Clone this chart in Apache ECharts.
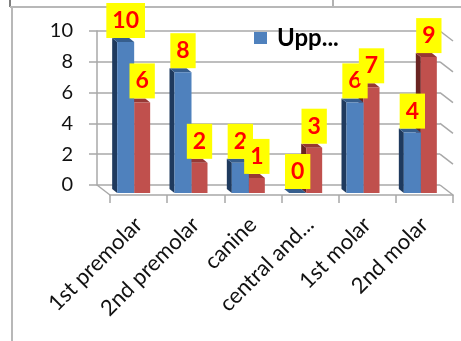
<!DOCTYPE html>
<html>
<head>
<meta charset="utf-8">
<script src="https://cdn.jsdelivr.net/npm/echarts@6/dist/echarts.min.js"></script>
<style>
  html, body { margin: 0; padding: 0; background: #fff; }
  #chart { width: 461px; height: 341px; }
</style>
</head>
<body>
<div id="chart"></div>
<script>
// Tooth types and counts per jaw
const categories = ['1st premolar', '2nd premolar', 'canine', 'central and...', '1st molar', '2nd molar'];
const upperValues = [10, 8, 2, 0, 6, 4];
const lowerValues = [6, 2, 1, 3, 7, 9];
const yMin = 0;
const yMax = 10;
const yStep = 2;

const FONT = 'Lato, "Liberation Sans", Arial, sans-serif';
const GRID_LINE = '#a8a8a8';

// Offsets of the bar depth (side and top faces)
const DEPTH_X = -5;
const DEPTH_Y = -4;

function barRenderer(startOffset, width, colors, labelZ) {
  return function (params, api) {
    const idx = api.value(0);
    const val = api.value(1);
    const top = api.coord([idx, val]);
    const base = api.coord([idx, 0]);
    const x0 = top[0] + startOffset;
    const x1 = x0 + width;
    const yT = top[1];
    const yB = base[1];
    return {
      type: 'group',
      children: [
        {
          type: 'polygon',
          shape: { points: [[x0, yB], [x0, yT], [x0 + DEPTH_X, yT + DEPTH_Y], [x0 + DEPTH_X, yB + DEPTH_Y]] },
          style: { fill: colors.side }
        },
        {
          type: 'polygon',
          shape: { points: [[x0, yT], [x1, yT], [x1 + DEPTH_X, yT + DEPTH_Y], [x0 + DEPTH_X, yT + DEPTH_Y]] },
          style: { fill: colors.top }
        },
        {
          type: 'rect',
          shape: { x: x0, y: yT, width: width, height: yB - yT },
          style: { fill: colors.front }
        },
        {
          type: 'text',
          z2: labelZ,
          style: {
            text: String(val),
            x: (x0 + x1) / 2,
            y: yT - 4,
            align: 'center',
            verticalAlign: 'bottom',
            fill: '#ff0000',
            font: 'bold 23px ' + FONT,
            lineHeight: 25,
            backgroundColor: '#ffff00',
            padding: [5, 6]
          }
        }
      ]
    };
  };
}

const upperColors = { front: '#4f81bd', side: '#1f3a5e', top: '#365e8d' };
const lowerColors = { front: '#c0504d', side: '#6a2422', top: '#963835' };

const chart = echarts.init(document.getElementById('chart'));

const option = {
  animation: false,
  backgroundColor: '#ffffff',
  textStyle: { fontFamily: FONT },
  legend: {
    data: ['Upper'],
    left: 254,
    top: 26,
    padding: 0,
    icon: 'rect',
    itemWidth: 13,
    itemHeight: 12,
    formatter: function (name) { return name.slice(0, 3) + '...'; },
    textStyle: { fontFamily: FONT, fontSize: 24, fontWeight: 'bold', color: '#000', padding: [0, 0, 0, 5] }
  },
  grid: [
    // back wall
    { left: 97, right: 21, top: 31, bottom: 156 },
    // plane of the bar fronts
    { left: 105, right: 12, top: 42, bottom: 148 },
    // front edge of the floor
    { left: 110, right: 8, top: 100, bottom: 146 }
  ],
  xAxis: [
    { gridIndex: 0, type: 'category', data: categories, show: false },
    { gridIndex: 1, type: 'category', data: categories, show: false },
    {
      gridIndex: 2,
      type: 'category',
      data: categories,
      axisLine: { lineStyle: { color: GRID_LINE, width: 1.5 } },
      axisTick: { show: true, length: 8, lineStyle: { color: GRID_LINE, width: 1.5 } },
      axisLabel: {
        interval: 0,
        rotate: 45,
        margin: 26,
        fontFamily: FONT,
        fontSize: 22,
        color: '#111'
      }
    }
  ],
  yAxis: [
    {
      gridIndex: 0,
      type: 'value',
      min: yMin,
      max: yMax,
      interval: yStep,
      axisLine: { show: true, lineStyle: { color: GRID_LINE, width: 1.5 } },
      axisTick: { show: true, length: 8, lineStyle: { color: GRID_LINE, width: 1.5 } },
      axisLabel: { margin: 24, fontFamily: FONT, fontSize: 20, color: '#111' },
      splitLine: { show: true, lineStyle: { color: GRID_LINE, width: 1.5 } }
    },
    { gridIndex: 1, type: 'value', min: yMin, max: yMax, show: false },
    { gridIndex: 2, type: 'value', min: yMin, max: yMax, show: false }
  ],
  series: [
    {
      name: 'Lower',
      type: 'custom',
      xAxisIndex: 1,
      yAxisIndex: 1,
      itemStyle: { color: lowerColors.front },
      encode: { x: 0, y: 1 },
      data: lowerValues.map((v, i) => [i, v]),
      renderItem: barRenderer(0.5, 16, lowerColors, 101)
    },
    {
      name: 'Upper',
      type: 'custom',
      xAxisIndex: 1,
      yAxisIndex: 1,
      itemStyle: { color: upperColors.front },
      encode: { x: 0, y: 1 },
      data: upperValues.map((v, i) => [i, v]),
      renderItem: barRenderer(-16.5, 17, upperColors, 100)
    }
  ]
};

chart.setOption(option);

// Floor and right-wall edges, joined from the back wall to the front edge
const backGrid = chart.getModel().getComponent('grid', 0).coordinateSystem.getRect();
const frontGrid = chart.getModel().getComponent('grid', 2).coordinateSystem.getRect();
const floorFrontY = frontGrid.y + frontGrid.height;
const depthDx = frontGrid.x - backGrid.x;
const depthDy = floorFrontY - (backGrid.y + backGrid.height);
const rightX = backGrid.x + backGrid.width;

const graphics = [];
const edgeStyle = { stroke: GRID_LINE, lineWidth: 1.5 };
graphics.push({
  type: 'line',
  shape: { x1: backGrid.x, y1: backGrid.y + backGrid.height, x2: frontGrid.x, y2: floorFrontY },
  style: edgeStyle
});
for (let v = yMin; v <= yMax; v += yStep) {
  const y = chart.convertToPixel({ yAxisIndex: 0 }, v);
  graphics.push({
    type: 'line',
    shape: { x1: rightX, y1: y, x2: rightX + depthDx, y2: y + depthDy },
    style: edgeStyle
  });
}

// Outer frame
graphics.push(
  { type: 'line', shape: { x1: 10, y1: 0, x2: 10, y2: 7 }, style: { stroke: '#555', lineWidth: 1.5 } },
  { type: 'line', shape: { x1: 333, y1: 0, x2: 333, y2: 7 }, style: { stroke: '#999', lineWidth: 1.5 } },
  { type: 'line', shape: { x1: 10, y1: 7, x2: 461, y2: 7 }, style: { stroke: '#b8b8b8', lineWidth: 2 } },
  { type: 'line', shape: { x1: 12, y1: 8, x2: 12, y2: 341 }, style: { stroke: '#b8b8b8', lineWidth: 2 } }
);

chart.setOption({ graphic: graphics });
</script>
</body>
</html>
